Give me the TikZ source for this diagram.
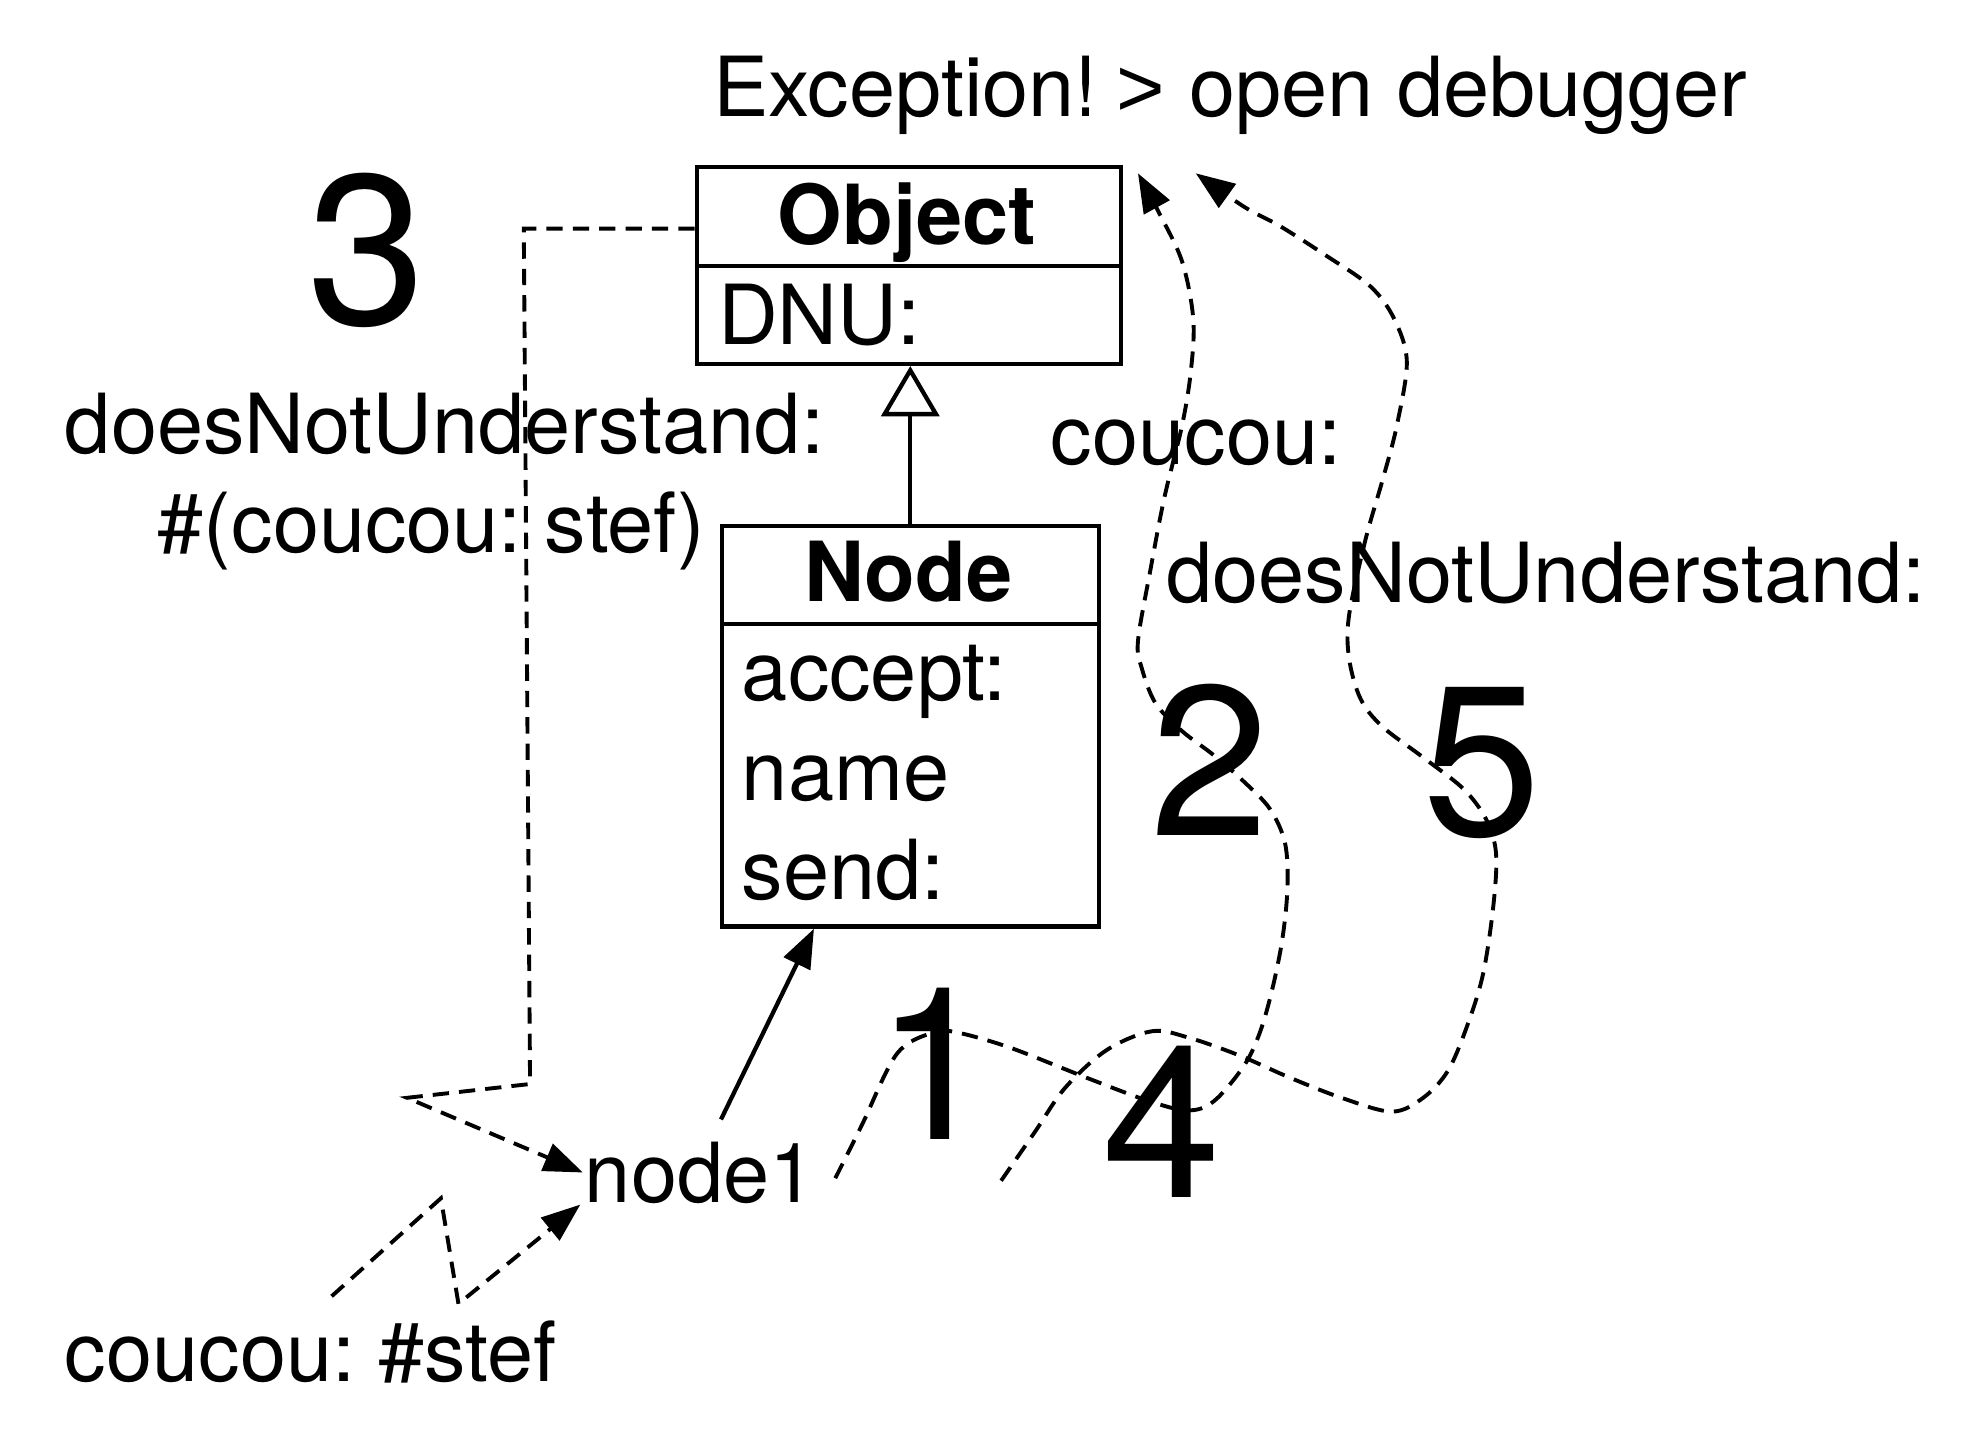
\documentclass[tikz,border=0pt]{standalone}
\usepackage{fontspec}
\setmainfont{TeX Gyre Heros}
\newfontfamily\gtfont{Liberation Sans}
\usetikzlibrary{arrows.meta,calc}
\frenchspacing
\begin{document}
\begin{tikzpicture}[x=1pt,y=-1pt,line width=3.4pt,
  txt/.style={inner sep=0pt,anchor=base west,font=\fontsize{66}{79}\selectfont},
  bignum/.style={inner sep=0pt,anchor=base west,font=\fontsize{170}{200}\selectfont},
  umlbox/.style={draw,inner sep=0pt,anchor=north west},
  dsh/.style={dash pattern=on 13pt off 8pt,line width=3.1pt},
  tipa/.style={-{Triangle[length=31pt,width=23pt]}},
  gen/.style={-{Triangle[open,length=40pt,width=46pt]}}]
\useasboundingbox (0,0) rectangle (1562,1147);

% title
\node[txt] (exc) at (566,93) {Exception!\kern-3pt\ {\gtfont >}\kern1pt\ open debugger};

% Object class
\node[umlbox,minimum width=338pt,minimum height=157pt] (object) at (553,131) {};
\draw ($(object.north west)+(0,81)$) -- ($(object.north east)+(0,81)$);
\node[txt,anchor=base] (objname) at (722,195) {\bfseries Object};
\node[txt] (dnu) at (570,274) {DNU:};

% Node class
\node[umlbox,minimum width=300pt,minimum height=319pt] (nodebox) at (573,417) {};
\draw ($(nodebox.north west)+(0,80)$) -- ($(nodebox.north east)+(0,80)$);
\node[txt,anchor=base] (nodename) at (723,479) {\bfseries Node};
\node[txt] (acc) at (589,558) {accept:};
\node[txt] (nam) at (589,637) {name};
\node[txt] (snd) at (589,716) {send:};

% inheritance
\draw[gen] (nodebox.north) -- (nodebox.north |- object.south);

% labels
\node[txt] (dnuleft) at (50,361) {doesNotUnderstand:};
\node[txt] (arg) at (124,440) {\#(coucou: stef)};
\node[txt] (cc) at (835,370) {coucou:};
\node[txt] (dnuright) at (927,480) {doesNotUnderstand:};
\node[txt] (msg) at (50,1100) {coucou: \#stef};
\node[txt] (node1) at (464,957) {node1};

% big step numbers
\node[bignum] (n3) at (243,258) {3};
\node[bignum] (n1) at (695,907) {1};
\node[bignum] (n2) at (914,665) {2};
\node[bignum] (n5) at (1131,665) {5};
\node[bignum] (n4) at (876,953) {4};

% instance-of arrow
\coordinate (s1) at ($(node1.north west)+(110,-16)$);
\draw[tipa] (s1) -- ($(nodebox.south west)+(75,0)$);

% step 3 : lookup goes to Object and comes back
\coordinate (c3a) at ($(object.north west)+(0,51)$);
\draw[dsh,tipa] (c3a) -- (417,182) -- (422,863) -- (324,874) -- (node1.west);

% message send
\coordinate (zb) at (264,1032);
\draw[dsh,tipa] (zb) -- (351,954) -- (365,1038) -- ($(node1.base west)+(-2,2)$);

% steps 1 & 2
\coordinate (p1s) at (665,938);
\coordinate (p2e) at (906,138);
\draw[dsh,tipa] plot[smooth,tension=0.55] coordinates {
  (p1s) (686,896) (714,839) (743,822) (762,822) (804,834) (865,858) (913,876)
  (945,884) (966,877) (990,849) (1003,822) (1013,787) (1021,747) (1025,706)
  (1023,671) (1011,644) (990,622) (966,601) (941,582) (920,560) (909,532)
  (906,510) (916,453) (927,396) (941,339) (948,296) (950,254) (941,208)
  (922,168) (p2e)};

% steps 4 & 5
\coordinate (p4s) at (797,940);
\coordinate (p5e) at (952,138);
\draw[dsh,tipa] plot[smooth,tension=0.55] coordinates {
  (p4s) (824,901) (848,866) (881,836) (917,821) (946,826) (986,840) (1027,858)
  (1068,874) (1108,885) (1133,874) (1153,852) (1169,814) (1181,774) (1189,720)
  (1191,679) (1183,652) (1165,628) (1133,603) (1100,578) (1083,556) (1074,524)
  (1074,490) (1087,430) (1101,381) (1112,339) (1120,288) (1110,254) (1091,228)
  (1055,203) (1019,180) (991,165) (p5e)};
\end{tikzpicture}
\end{document}
